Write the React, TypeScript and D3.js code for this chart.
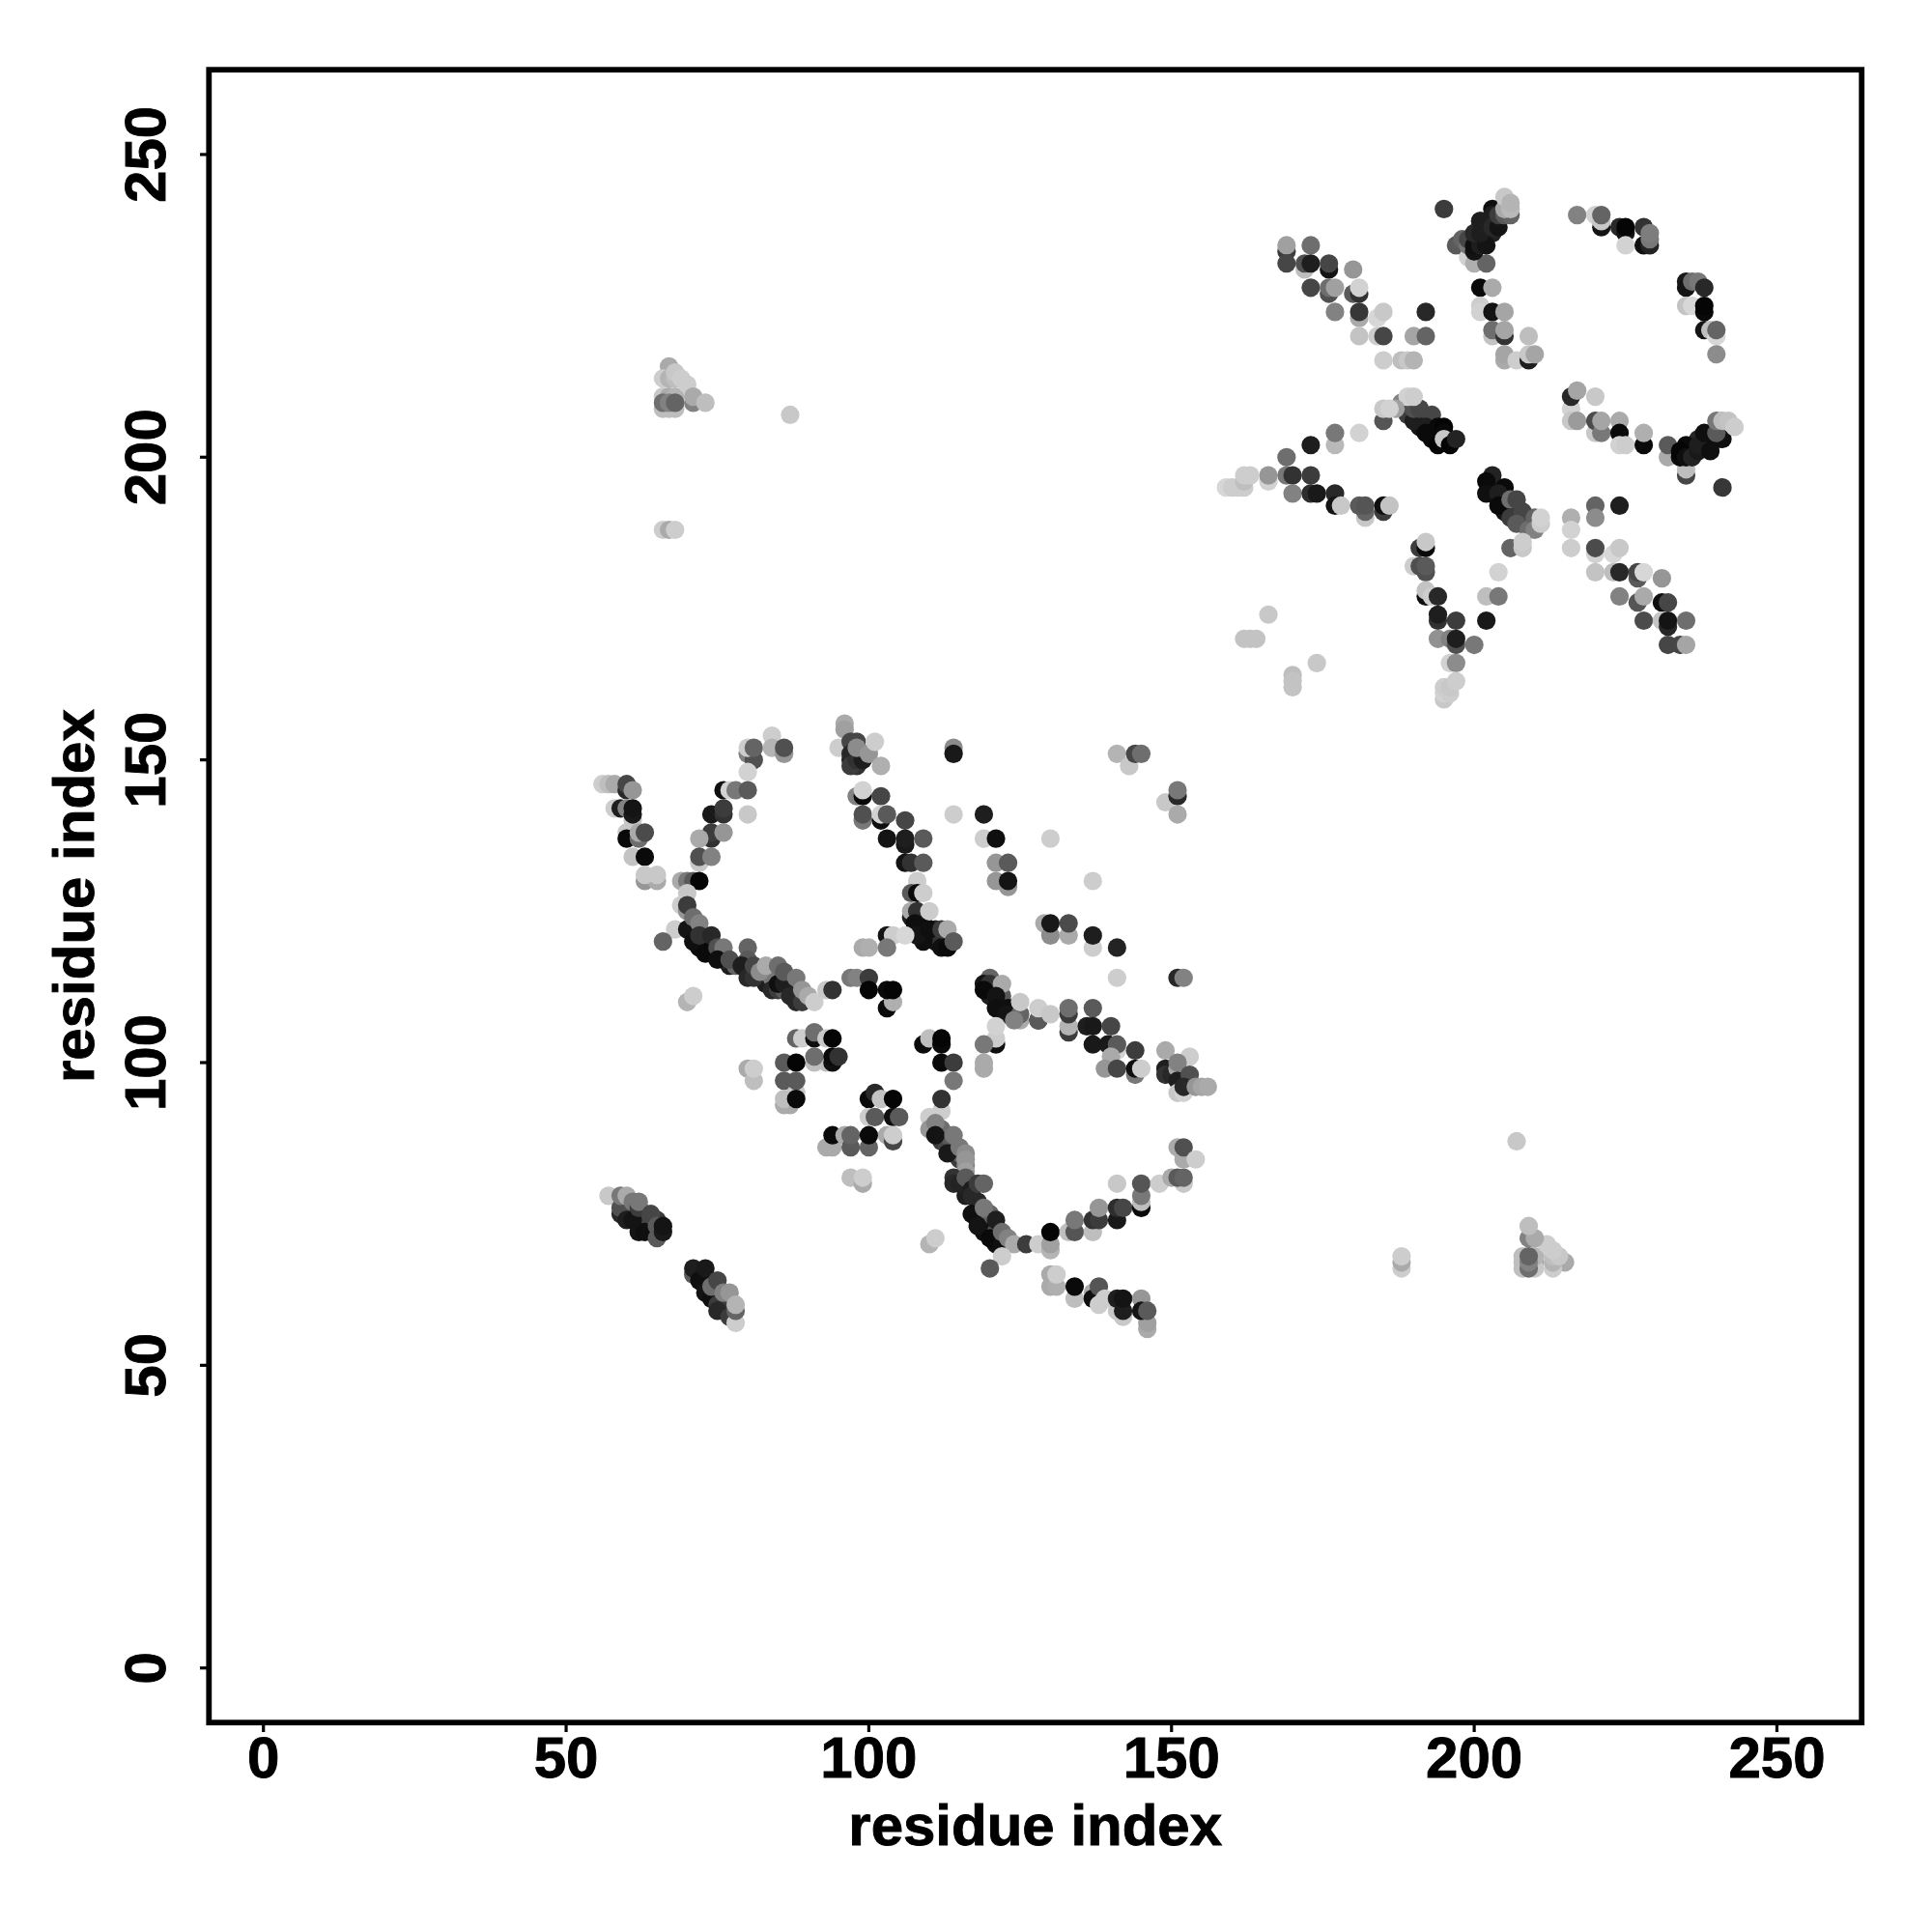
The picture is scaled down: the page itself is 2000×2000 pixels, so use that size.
import React from "react";
import * as d3 from "d3";

type P = [number, number, number];

const tickValues = [0, 50, 100, 150, 200, 250];
const axisTitle = "residue index";

// each contact: [residue i, residue j, grey level]
const denseLower: P[] = [[60,76,100],[61,75,40],[62,74,30],[63,74,60],[64,73,40],[64,74,90],[63,75,70],[65,74,60],[72,65,20],[73,64,30],[74,62,60],[75,62,90],[76,60,40],[76,61,100],[77,60,120],[77,59,60],[73,120,60],[74,119,30],[75,118,50],[77,116,30],[78,116,100],[72,119,10],[76,117,40],[82,114,60],[83,113,30],[84,114,120],[84,112,40],[85,112,60],[86,112,90],[87,112,100],[87,113,110],[88,111,130],[88,110,40],[96,152,30],[97,150,30],[98,151,30],[99,151,60],[97,152,50],[98,149,50],[107,124,30],[108,123,60],[109,123,20],[109,122,10],[110,121,15],[111,120,20],[111,122,40],[112,120,50],[113,120,20],[108,122,30],[109,120,15],[112,87,60],[113,86,70],[114,85,80],[115,84,60],[113,88,90],[112,89,110],[115,85,100],[116,83,130],[116,78,30],[117,80,50],[115,81,30],[118,77,40],[118,75,70],[119,74,40],[120,73,60],[119,72,15],[120,75,100],[121,72,80],[121,70,15],[120,111,30],[122,110,40],[123,108,60],[122,111,90],[121,112,60],[124,108,90],[124,109,40]];
const denseUpper: P[] = [[189,208,70],[190,207,40],[191,206,30],[192,206,60],[193,206,90],[193,205,20],[191,205,20],[194,204,30],[193,203,10],[194,203,15],[203,195,15],[203,194,30],[205,193,15],[205,192,30],[206,192,50],[206,191,30],[207,192,80],[208,190,60],[208,189,90],[209,189,100],[209,190,110],[205,191,20],[236,201,20],[235,201,10],[238,203,25],[239,203,30],[238,202,20],[237,203,40],[240,203,15],[202,237,30],[202,238,25],[202,239,45],[203,237,35],[204,239,55],[201,236,15],[199,234,20],[200,236,20],[198,235,30]];
const upperLeftArm: P[] = [[169,234,60],[169,235,160],[173,235,110],[169,232,70],[172,231,190],[172,232,80],[173,232,30],[176,231,20],[176,232,70],[173,228,70],[176,227,80],[176,228,110],[177,228,160],[180,231,150],[180,227,90],[181,227,50],[181,228,210],[177,224,130],[181,223,170],[181,224,55],[184,223,215],[185,224,200],[181,220,195],[184,220,205],[185,220,70],[192,224,40],[190,220,165],[192,220,100],[185,216,205],[188,216,190],[189,216,200],[190,216,180]];
const upperTopArm: P[] = [[195,241,60],[197,235,90],[198,236,100],[199,233,210],[199,235,120],[200,232,175],[202,232,100],[199,236,70],[200,234,20],[200,235,15],[201,235,30],[202,235,20],[200,237,40],[201,237,30],[201,239,50],[201,239,30],[203,241,15],[203,240,30],[203,238,40],[204,238,20],[204,240,60],[205,240,90],[206,240,100],[205,241,170],[206,241,185],[205,243,200],[206,242,180]];
const upperStem: P[] = [[201,228,10],[203,228,170],[201,225,205],[201,224,210],[203,224,20],[205,224,165],[203,220,195],[203,221,110],[205,220,50],[205,221,165],[209,220,190],[205,216,170],[205,217,165],[207,216,205],[209,216,30],[209,217,200],[210,217,165]];
const upperRightArc: P[] = [[217,240,130],[220,240,210],[221,238,20],[221,239,200],[221,240,100],[224,238,40],[225,237,20],[225,238,5],[225,235,210],[228,238,50],[228,235,15],[229,235,35],[229,236,120],[229,237,125]];
const upperRightSide: P[] = [[235,229,25],[235,228,20],[236,229,110],[237,229,120],[238,228,40],[235,225,195],[236,225,215],[238,224,10],[238,225,5],[238,221,20],[239,221,190],[240,220,215],[240,221,100],[240,217,140]];
const upperCoreA: P[] = [[188,209,130],[188,208,100],[189,209,120],[189,207,60],[190,206,30],[190,208,80],[191,208,70],[193,207,70],[192,205,30],[192,204,10],[194,205,10],[195,205,5],[195,204,10],[194,202,5],[195,203,200],[196,202,5],[197,203,35],[189,210,210],[190,210,205],[185,206,85],[187,208,160],[185,208,200],[186,208,210]];
const upperMidLeft: P[] = [[177,202,185],[177,204,120],[181,204,210],[173,202,30],[169,200,110],[166,196,210],[166,197,150],[169,197,120],[170,197,50],[173,197,60],[159,195,215],[160,195,205],[161,195,205],[162,195,205],[162,196,190],[162,197,205],[163,197,205],[170,194,130],[173,194,45],[174,194,25],[177,194,40],[177,192,20],[178,192,200],[182,190,200],[182,191,100],[181,192,90],[182,192,85],[185,191,60],[185,192,15],[186,192,195]];
const upperCoreB: P[] = [[203,197,35],[202,196,10],[202,194,15],[205,195,10],[204,194,30],[204,192,10],[206,193,110],[207,193,70],[207,190,30],[206,190,60],[208,191,70],[207,189,90],[209,188,110],[210,190,100],[210,188,130],[211,189,205],[211,190,210],[206,185,100],[208,185,200],[208,186,205]];
const upperLowerRight: P[] = [[216,190,175],[216,188,210],[216,185,205],[220,192,100],[224,192,30],[220,190,140],[220,184,210],[220,185,75],[223,184,215],[224,185,200],[220,181,195],[223,181,190],[224,181,40],[227,180,90],[227,181,70],[228,181,215],[231,180,150],[224,177,130],[227,176,85],[228,177,170],[231,176,15],[232,176,70],[228,173,75],[231,173,195],[232,172,40],[232,173,20],[235,173,110],[232,169,70],[234,169,70],[235,169,165]];
const upperRightArm: P[] = [[216,208,210],[216,210,40],[217,211,165],[220,210,200],[216,206,200],[217,206,155],[220,204,200],[220,206,75],[221,204,120],[221,206,165],[224,206,170],[224,204,10],[224,202,210],[225,202,205],[228,202,10],[228,204,175],[232,200,170],[232,202,90],[235,197,70],[235,198,190],[234,200,10],[235,202,10],[234,201,5],[235,200,15],[236,200,35],[237,201,25],[237,202,30],[239,201,15],[238,204,15],[241,203,15],[240,204,90],[240,206,120],[241,206,190],[242,206,195],[243,205,205],[241,195,55]];
const upperLowerArm: P[] = [[191,185,60],[192,185,10],[192,186,200],[190,182,205],[191,182,80],[192,181,80],[192,182,90],[192,177,15],[192,178,195],[193,177,205],[194,177,40],[194,173,50],[194,174,30],[197,173,60],[194,170,145],[196,170,130],[197,169,80],[197,170,30],[200,169,120],[202,173,25],[202,177,190],[204,177,120],[204,181,210],[196,166,210],[197,166,140],[195,160,200],[195,161,210],[195,162,205],[196,161,205],[196,162,200],[197,163,205]];
const upperFaint: P[] = [[166,174,200],[162,170,195],[163,170,195],[164,170,195],[170,164,190],[170,163,195],[170,162,195],[174,166,200]];

const lowerTopLeft: P[] = [[56,146,205],[57,146,190],[58,146,170],[60,145,40],[60,146,70],[61,145,150],[58,142,205],[59,142,30],[60,142,130],[61,140,200],[61,141,25],[61,142,20],[60,138,200],[60,137,10],[62,137,110],[62,138,170],[63,138,75],[61,134,195],[63,134,10],[63,130,150],[65,130,170],[63,131,200],[65,131,200]];
const lowerLeftArc: P[] = [[80,151,130],[81,150,80],[80,152,205],[81,152,100],[80,148,210],[84,154,205],[84,152,180],[86,151,150],[86,152,80],[76,145,15],[77,145,210],[78,145,120],[80,145,90],[80,141,200],[74,141,25],[76,141,50],[76,142,60],[74,137,50],[74,138,60],[72,137,170],[76,138,150],[72,133,200],[72,134,80],[74,134,130],[69,130,170],[70,130,120],[71,130,90],[72,130,5],[70,128,200],[69,126,205],[70,125,150],[70,126,60],[68,122,205],[66,120,100]];
const lowerDiagonal: P[] = [[70,122,20],[71,124,110],[72,123,130],[71,120,15],[72,121,50],[74,121,40],[73,118,10],[75,119,80],[76,119,120],[75,117,15],[77,117,80],[80,119,100],[80,117,90],[79,116,30],[80,114,40],[81,114,50],[81,116,70],[82,115,140],[83,116,170],[85,113,15],[86,113,30],[85,116,110],[86,115,90],[87,111,40],[88,114,120],[89,110,60],[89,112,150],[90,111,170],[91,110,205],[93,112,200],[94,112,50],[97,114,120],[98,114,130],[100,114,60],[100,112,5],[103,109,10],[104,110,175],[103,112,10],[104,112,5],[70,110,180],[71,111,205]];
const lowerTopCenter: P[] = [[96,156,170],[96,155,160],[95,152,205],[97,153,70],[98,153,70],[97,151,40],[97,149,60],[98,150,50],[99,150,30],[98,152,140],[100,151,150],[101,153,205],[102,149,175]];
const lowerRightArc: P[] = [[98,144,130],[99,144,10],[99,145,210],[102,144,70],[99,140,120],[99,141,80],[102,140,15],[102,141,210],[103,141,90],[106,140,70],[103,137,20],[106,136,25],[106,137,30],[109,137,90],[106,133,20],[107,133,50],[109,133,90],[108,130,205],[107,128,90],[108,128,10],[109,128,205],[107,125,170],[108,125,50],[107.6,123,15],[108,121,20],[110,122,15],[110,125,205],[112,119,15],[113,119,10],[112,122,60],[113,122,170],[114,120,90],[103,121,20],[104,121,205],[106,121,215],[99,119,170],[100,119,175],[103,119,120]];
const lowerScatter: P[] = [[114,152,140],[114,151,25],[114,141,205],[119,141,30],[119,137,205],[121,137,15],[121,133,150],[123,133,90],[121,130,150],[123,129,150],[123,130,20],[130,137,205],[137,130,205],[129,123,170],[130,121,140],[130,123,25],[133,121,170],[133,123,75],[137,119,205],[137,121,30],[141,119,35],[141,114,205],[151,114,40],[152,114,130],[141,151,180],[143,149,200],[144,151,70],[145,151,110],[149,143,200],[151,144,40],[151,145,120],[151,141,170]];
const lowerRightDiag: P[] = [[120,114,100],[119,113,20],[120,113,50],[119,112,10],[122,113,170],[121,111,20],[121,109,15],[123,109,15],[122.7,108,20],[125,107,170],[125,108,100],[124,107,130],[125,110,200],[128,107,15],[128,107,90],[128,109,205],[130,108,200],[133,105,60],[133,106,180],[133,108,60],[133,109,110],[137,109,90],[136,106,30],[137,106,25],[140,106,70],[137,103,25],[139.5,103,25],[141,102,210],[141,103,90],[140,101,170],[144,102,60],[139,99,150],[141,99,70],[144,98,120],[144,99,15],[145,99,205]];
const lowerRightEnd: P[] = [[149,102,170],[153,101,205],[149,99,30],[149,98,50],[150,98,40],[151,99,170],[151,100,130],[151,97,30],[153,98,80],[151,95,200],[152,95,210],[152,96,40],[154,96,150],[155,96,165],[156,96,170],[121,103,15],[121,104,205],[121,106,210],[119,103,120],[119,99,170],[119,100,170]];
const lowerCenter: P[] = [[88,104,100],[89,104,205],[91,104,15],[91,105,110],[93,104,200],[94,104,5],[93,100,190],[91,100,190],[91,101,110],[94,100,15],[94,101,10],[95,101,50],[86,100,90],[88,100,5],[86,97,90],[88,95,200],[88,97,90],[86,93,170],[87,93,170],[86,94,190],[88,94,10],[80,99,170],[81,97,190],[81,99,205],[109,103,10],[110,104,190],[112,103,10],[112,104,5],[112,100,10],[114,100,60],[114,97,120],[112,92,205],[112,94,50],[100,94,10],[101,95,40],[102,94,195],[104,94,5],[100,91,205],[101,91,90],[104,91,15],[105,91,90],[103,88,170],[104,87,70],[104,88,205],[93,86,170],[94,86,170],[94,88,10],[96,88,170],[97,86,90],[97,88,100],[100,86,100],[100,88,10],[97,81,190],[99,80,170],[99,81,205]];
const lowerLowerArc: P[] = [[110,91,205],[110,89,150],[111,90,130],[111,88,20],[113,85,25],[114,88,120],[115,86,120],[116,85,140],[116,84,150],[116,82,160],[114,81,50],[114,80,40],[115,80,35],[116,81,90],[117,79,30],[117,78,40],[118,80,60],[119,80,100],[117,75,15],[119,76,120],[118,73,20],[121,74,30],[120,71,10],[122,70,15],[122,72,110],[123,71,130],[124,70,170],[126,70,60],[128,70,205],[130,69,180],[130,70,160],[130,72,5],[122,68,205],[120,66,90],[110,70,180],[111,71,205],[133,72,190],[134,72,85],[134,74,120],[137,72,190],[137,74,50],[138,74,60],[138,76,150],[141,74,25],[141,76,45],[142,76,70],[145,76,10],[145,77,190],[145,78,120],[145,80,85],[141,80,200],[148,80,205],[150,81,170],[152,80,200],[151,81,90],[152,81,100],[151,86,170],[152,84,170],[152,86,80],[154,84,205]];
const lowerBottomRight: P[] = [[130,65,170],[130,63,170],[131,63,175],[131,65,205],[134,61,190],[134,63,10],[137,62,170],[137,61,15],[138,63,85],[138,60,205],[139,61,205],[141,59,200],[141,61,30],[142,58,200],[142,59,30],[142,61,20],[145,61,150],[146,56,170],[146,57,160],[145,59,20],[146,59,90]];
const lowerBottomLeft: P[] = [[57,78,200],[59,75,40],[59,76,80],[59,78,120],[60,78,170],[60,74,30],[61,74,20],[61,77,120],[62,72,20],[62,76,60],[62,77,120],[63,72,15],[64,75,70],[65,71,90],[65,73,90],[66,72,25],[66,73,20],[71,65,90],[71,66,30],[72,64,15],[73,66,25],[73,62,20],[74,61,15],[74,63,110],[75,64,70],[75,60,60],[75,59,40],[76,62,130],[77,58,60],[77,62,150],[78,57,205],[78,59,100],[78,60,180]];
const farUpperLeft: P[] = [[66,208,190],[67,208,190],[68,208,190],[66,210,200],[67,210,170],[68,210,180],[66,209,110],[67,209,130],[68,209,100],[67,215,170],[66,213,205],[67,213,180],[68,213,190],[68,214,200],[69,213,205],[70,212,205],[71,209,130],[71,210,170],[73,209,190],[87,207,200],[66,188,205],[67,188,170],[68,188,205]];
const farLowerRight: P[] = [[208,67,190],[210,67,170],[208,66,190],[208,68,190],[210,66,200],[210,68,180],[209,66,110],[209,67,130],[209,68,100],[215,67,170],[213,66,205],[213,67,180],[213,68,190],[214,68,200],[213,69,205],[212,70,205],[209,71,130],[210,71,170],[209,73,190],[207,87,200],[188,66,205],[188,67,170],[188,68,205]];

const contacts: P[] = [
  ...denseLower, ...denseUpper,
  ...farUpperLeft, ...lowerTopLeft, ...lowerBottomLeft, ...lowerLeftArc, ...lowerDiagonal,
  ...lowerCenter, ...lowerTopCenter, ...lowerRightArc, ...lowerLowerArc, ...lowerScatter,
  ...lowerBottomRight, ...lowerRightDiag, ...lowerRightEnd, ...upperFaint, ...upperMidLeft,
  ...upperLeftArm, ...upperCoreA, ...upperLowerArm, ...upperTopArm, ...upperStem, ...upperCoreB,
  ...upperLowerRight, ...upperRightArm, ...upperRightArc, ...upperRightSide, ...farLowerRight,
];

const FONT = "'Liberation Sans', Arial, sans-serif";
const textStyle = { fontFamily: FONT, fontWeight: 700, fontSize: 60, fill: "#000", stroke: "#000", strokeWidth: 0.9 };

export default function App() {
  const x = d3.scaleLinear().domain([-9, 264]).range([216.3, 1927.2]);
  const y = d3.scaleLinear().domain([-9, 264]).range([1783.1, 72.2]);
  return (
    <svg width={2000} height={2000} viewBox="0 0 2000 2000"
      style={{ position: "absolute", left: 0, top: 0, background: "#fff" }}>
      {contacts.map((d, i) => (
        <circle key={i} cx={x(d[0])} cy={y(d[1])} r={9.6} fill={d3.rgb(d[2], d[2], d[2]).formatRgb()} />
      ))}
      <rect x={216.3} y={72.2} width={1710.9} height={1711} fill="none" stroke="#000" strokeWidth={5.8} />
      {tickValues.map((t) => (
        <g key={t}>
          <line x1={x(t)} x2={x(t)} y1={1783} y2={1793} stroke="#000" strokeWidth={3.2} />
          <text x={x(t)} y={1840} textAnchor="middle" style={textStyle}>{t}</text>
          <line x1={207} x2={216} y1={y(t)} y2={y(t)} stroke="#000" strokeWidth={3.2} />
          <text transform={`translate(171,${y(t)}) rotate(-90)`} textAnchor="middle" style={textStyle}>{t}</text>
        </g>
      ))}
      <text x={1071.7} y={1910} textAnchor="middle" style={textStyle}>{axisTitle}</text>
      <text transform="translate(97,927.6) rotate(-90)" textAnchor="middle" style={textStyle}>{axisTitle}</text>
    </svg>
  );
}
